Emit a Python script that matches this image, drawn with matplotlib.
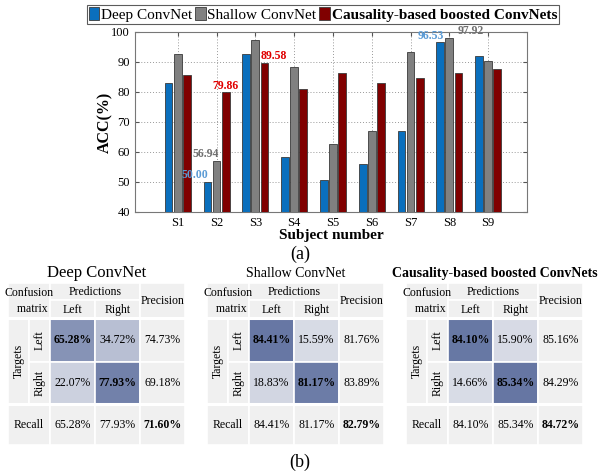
import numpy as np
import matplotlib
matplotlib.use("Agg")
import matplotlib.pyplot as plt
from matplotlib.patches import Rectangle
from matplotlib.colors import LinearSegmentedColormap

plt.rcParams['font.family'] = ['Liberation Serif', 'DejaVu Serif']

# per-subject accuracy (%)
subjects = ['S1', 'S2', 'S3', 'S4', 'S5', 'S6', 'S7', 'S8', 'S9']
deep_acc = [83.0, 50.00, 92.5, 58.3, 50.6, 55.9, 67.0, 96.53, 91.9]
shallow_acc = [92.5, 56.94, 97.4, 88.3, 62.6, 66.9, 93.3, 97.92, 90.3]
causal_acc = [85.6, 79.86, 89.58, 80.9, 86.2, 83.0, 84.8, 86.2, 87.5]
model_names = ['Deep ConvNet', 'Shallow ConvNet', 'Causality-based boosted ConvNets']

# confusion matrices (rows = targets, cols = predictions), precision, recall, accuracy
deep_cm = [[65.28, 34.72], [22.07, 77.93]]
deep_prec = [74.73, 69.18]
deep_rec = [65.28, 77.93]
deep_total = 71.60

shallow_cm = [[84.41, 15.59], [18.83, 81.17]]
shallow_prec = [81.76, 83.89]
shallow_rec = [84.41, 81.17]
shallow_total = 82.79

causal_cm = [[84.10, 15.90], [14.66, 85.34]]
causal_prec = [85.16, 84.29]
causal_rec = [84.10, 85.34]
causal_total = 84.72

bar_colors = ['#0a6fbd', '#808080', '#800000']
label_colors = ['#5b9bd5', '#707070', '#e00000']

fig = plt.figure(figsize=(5.99, 4.73), dpi=100)
W, H = 599, 473

# ---------- (a) bar chart ----------
ax = fig.add_axes([135 / W, 1 - 212 / H, (527 - 135) / W, (212 - 32) / H])
x = np.arange(1, len(subjects) + 1)
series = [deep_acc, shallow_acc, causal_acc]
offsets = [-0.235, 0.0, 0.235]
bw = 0.2
bars = []
for vals, off, col, name in zip(series, offsets, bar_colors, model_names):
    b = ax.bar(x + off, vals, bw, color=col, edgecolor='#3a3a3a', linewidth=0.6,
               label=name, zorder=3)
    bars.append(b)

ax.set_xlim(-0.1, 10.0)
ax.set_ylim(40, 100)
ax.set_xticks(x)
ax.set_xticklabels(subjects, fontsize=9)
ax.set_yticks(np.arange(40, 101, 10))
ax.tick_params(axis='y', labelsize=9)
ax.tick_params(direction='in', top=True, right=True, length=3, color='#555555')
ax.grid(True, linestyle=(0, (1, 2)), color='#999999', linewidth=0.7, zorder=0)
for s in ax.spines.values():
    s.set_color('#777777')
    s.set_linewidth(0.8)
ax.set_ylabel('ACC(%)', fontsize=11.5, fontweight='bold', labelpad=-1)
ax.set_xlabel('Subject number', fontsize=11, fontweight='bold', labelpad=0)

# value labels: (series, subject, horizontal alignment, x shift)
callouts = [(0, 1, 'right', 0.02), (1, 1, 'center', -0.28), (2, 1, 'center', 0.0),
            (2, 2, 'left', -0.1), (0, 7, 'right', 0.1), (1, 7, 'left', 0.2)]
for si, k, ha, dx in callouts:
    v = series[si][k]
    ax.text(x[k] + offsets[si] + dx, v + 0.3, f'{v:.2f}', color=label_colors[si],
            fontsize=8.5, fontweight='bold', ha=ha, va='bottom', zorder=4)

leg = fig.legend(handles=bars, loc='center', bbox_to_anchor=(323 / W, 1 - 14.5 / H),
                 ncol=3, fontsize=11, frameon=True, fancybox=False,
                 edgecolor='#333333', handlelength=0.7, handleheight=0.9,
                 handletextpad=0.1, columnspacing=0.2, borderpad=0.15,
                 borderaxespad=0)
leg.get_frame().set_linewidth(0.8)
leg.get_texts()[2].set_fontweight('bold')

# ---------- (b) confusion tables ----------
tx = fig.add_axes([0, 0, 1, 1], zorder=-1)
tx.set_xlim(0, W)
tx.set_ylim(H, 0)
tx.axis('off')

tx.text(300, 254, '(a)', fontsize=13, ha='center', va='center')
tx.text(300, 462, '(b)', fontsize=13, ha='center', va='center')

cmap = LinearSegmentedColormap.from_list('cm', ['#f0f1f4', '#4e6195'])
bg = '#f0f0f0'
col_w = [21, 21, 45, 45, 45]
row_y = [283, 300, 318, 362, 404, 445]
fs = 8.5


def cell(x0, y0, x1, y1, color=bg):
    tx.add_patch(Rectangle((x0, y0), x1 - x0, y1 - y0, facecolor=color,
                           edgecolor='white', linewidth=1.2))


def draw_table(left, title, title_kw, cm, prec, rec, total):
    cx = np.concatenate([[left], left + np.cumsum(col_w)])
    y = row_y
    tx.text((cx[0] + cx[-1]) / 2, 273, title, ha='center', va='center', **title_kw)
    # header
    cell(cx[0], y[0], cx[2], y[2])
    tx.text((cx[0] + cx[2]) / 2, (y[0] + y[2]) / 2 + 0.5, 'Confusion\n  matrix',
            ha='center', va='center', fontsize=fs, linespacing=1.35)
    cell(cx[2], y[0], cx[4], y[1])
    tx.text((cx[2] + cx[4]) / 2, (y[0] + y[1]) / 2, 'Predictions', ha='center',
            va='center', fontsize=fs)
    for j, lab in enumerate(['Left', 'Right']):
        cell(cx[2 + j], y[1], cx[3 + j], y[2])
        tx.text((cx[2 + j] + cx[3 + j]) / 2, (y[1] + y[2]) / 2 + 1, lab,
                ha='center', va='center', fontsize=fs)
    cell(cx[4], y[0], cx[5], y[2])
    tx.text((cx[4] + cx[5]) / 2, (y[0] + y[2]) / 2, 'Precision', ha='center',
            va='center', fontsize=fs)
    # body
    cell(cx[0], y[2], cx[1], y[4])
    tx.text((cx[0] + cx[1]) / 2, (y[2] + y[4]) / 2, 'Targets', rotation=90,
            ha='center', va='center', fontsize=fs)
    for i, lab in enumerate(['Left', 'Right']):
        cell(cx[1], y[2 + i], cx[2], y[3 + i])
        tx.text((cx[1] + cx[2]) / 2, (y[2 + i] + y[3 + i]) / 2, lab, rotation=90,
                ha='center', va='center', fontsize=fs)
        for j in range(2):
            v = cm[i][j]
            cell(cx[2 + j], y[2 + i], cx[3 + j], y[3 + i], cmap(v / 100))
            tx.text((cx[2 + j] + cx[3 + j]) / 2, (y[2 + i] + y[3 + i]) / 2,
                    f'{v:.2f}%', ha='center', va='center', fontsize=fs,
                    fontweight='bold' if i == j else 'normal')
        cell(cx[4], y[2 + i], cx[5], y[3 + i])
        tx.text((cx[4] + cx[5]) / 2, (y[2 + i] + y[3 + i]) / 2, f'{prec[i]:.2f}%',
                ha='center', va='center', fontsize=fs)
    # recall row
    cell(cx[0], y[4], cx[2], y[5])
    tx.text((cx[0] + cx[2]) / 2, (y[4] + y[5]) / 2, 'Recall', ha='center',
            va='center', fontsize=fs)
    for j in range(2):
        cell(cx[2 + j], y[4], cx[3 + j], y[5])
        tx.text((cx[2 + j] + cx[3 + j]) / 2, (y[4] + y[5]) / 2, f'{rec[j]:.2f}%',
                ha='center', va='center', fontsize=fs)
    cell(cx[4], y[4], cx[5], y[5])
    tx.text((cx[4] + cx[5]) / 2, (y[4] + y[5]) / 2, f'{total:.2f}%', ha='center',
            va='center', fontsize=fs, fontweight='bold')
    # thicker separators between header, body and recall row
    for yy in (y[2], y[4]):
        tx.plot([cx[0], cx[-1]], [yy, yy], color='white', linewidth=2.2)


draw_table(8, model_names[0], dict(fontsize=12), deep_cm, deep_prec, deep_rec, deep_total)
draw_table(207, model_names[1], dict(fontsize=10), shallow_cm, shallow_prec,
           shallow_rec, shallow_total)
draw_table(406, model_names[2], dict(fontsize=10, fontweight='bold'), causal_cm,
           causal_prec, causal_rec, causal_total)

fig.savefig('out.png', dpi=100)
